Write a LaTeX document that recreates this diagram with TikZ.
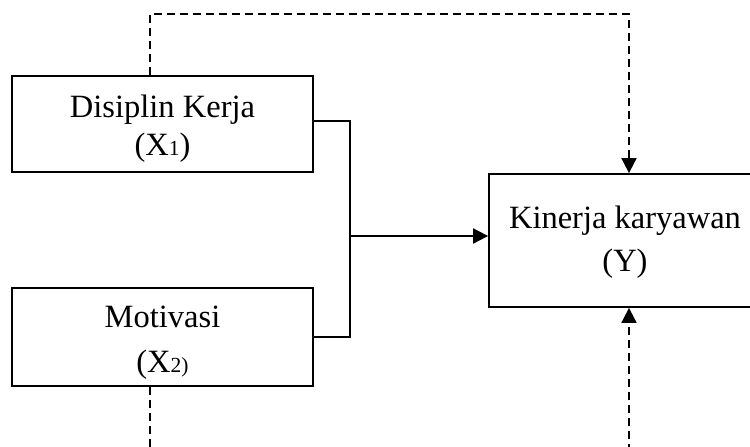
\documentclass[tikz,border=0pt]{standalone}
\usepackage{fontspec}
\setmainfont{Liberation Serif}
\usetikzlibrary{arrows.meta}
\begin{document}
\begin{tikzpicture}[x=1pt,y=-1pt,
  box/.style={draw,line width=1.8pt,inner sep=0pt},
  lbl/.style={anchor=base,inner sep=0pt,font=\fontsize{32.5}{38}\selectfont},
  solidline/.style={line width=1.8pt},
  dashline/.style={line width=1.8pt,dash pattern=on 8pt off 5pt},
  tip/.style={-{Triangle[length=15pt,width=15pt]}}]
\newcommand{\smalldigit}[1]{{\fontsize{21.5}{24}\selectfont #1}}
\useasboundingbox (0,0) rectangle (750,447);
\clip (0,0) rectangle (750,447);

% boxes
\node[box,minimum width=301pt,minimum height=96pt] (dk) at (162.5,124) {};
\node[box,minimum width=301pt,minimum height=98pt] (mv) at (162.5,337) {};
\node[box,minimum width=272pt,minimum height=133pt] (ky) at (625,240.5) {};

% labels
\node[lbl] (dkA) at (162.5,117) {Disiplin Kerja};
\node[lbl] (dkB) at (162.5,155) {(X\smalldigit{1})};
\node[lbl] (mvA) at (162.5,327) {Motivasi};
\node[lbl] (mvB) at (162.5,372) {(X\smalldigit{2)}};
\node[lbl] (kyA) at (625,228) {Kinerja karyawan};
\node[lbl] (kyB) at (625,271) {(Y)};

% joint influence: bracket into Y
\coordinate (j) at (350,236);
\coordinate (jt) at (350,121);
\draw[solidline] (jt -| dk.east) -- (jt) -- (mv.east -| j) -- (mv.east);
\draw[solidline,tip] (j) -- (j -| ky.west);

% partial influences (dashed)
\coordinate (t1) at (150,14);
\coordinate (t2) at (629,14);
\draw[dashline,tip] (dk.north -| t1) -- (t1) -- (t2) -- (t2 |- ky.north);
\coordinate (b1) at (150,452);
\coordinate (b2) at (629,452);
\draw[dashline] (mv.south -| b1) -- (b1);
\draw[dashline,tip] (b2) -- (b2 |- ky.south);
\end{tikzpicture}
\end{document}
